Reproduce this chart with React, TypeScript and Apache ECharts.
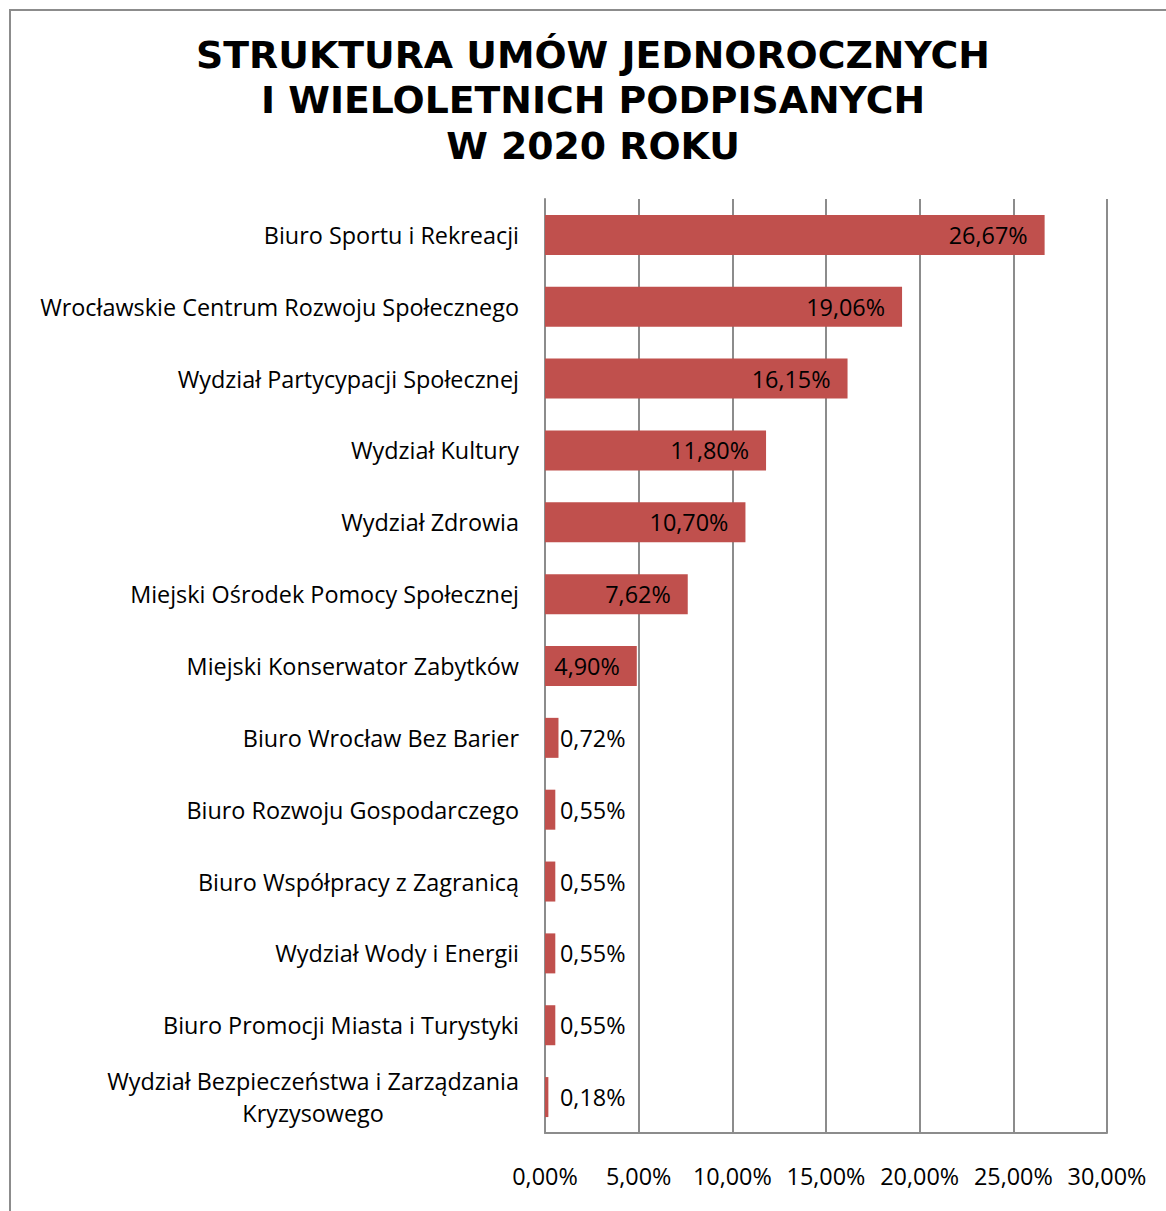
import React, { useEffect, useRef } from "react";
import * as echarts from "echarts";

const titleLines = ["STRUKTURA UMÓW JEDNOROCZNYCH", "I WIELOLETNICH PODPISANYCH", "W 2020 ROKU"];
const categories = [
  "Biuro Sportu i Rekreacji",
  "Wrocławskie Centrum Rozwoju Społecznego",
  "Wydział Partycypacji Społecznej",
  "Wydział Kultury",
  "Wydział Zdrowia",
  "Miejski Ośrodek Pomocy Społecznej",
  "Miejski Konserwator Zabytków",
  "Biuro Wrocław Bez Barier",
  "Biuro Rozwoju Gospodarczego",
  "Biuro Współpracy z Zagranicą",
  "Wydział Wody i Energii",
  "Biuro Promocji Miasta i Turystyki",
  "Wydział Bezpieczeństwa i Zarządzania\nKryzysowego",
];
const values = [26.67, 19.06, 16.15, 11.8, 10.7, 7.62, 4.9, 0.72, 0.55, 0.55, 0.55, 0.55, 0.18];
const xTicks = [0, 5, 10, 15, 20, 25, 30];

const FONT = "'Open Sans', 'Noto Sans', sans-serif";
const FS = 23.4;
const fmt = (v: number) => v.toFixed(2).replace(".", ",") + "%";

export default function App() {
  const ref = useRef<HTMLDivElement>(null);
  useEffect(() => {
    const chart = echarts.init(ref.current!, null, { renderer: "svg" });
    chart.setOption({
      animation: false,
      backgroundColor: "#fff",
      title: {
        text: titleLines.join("\n"),
        left: 588,
        textAlign: "center",
        top: 27,
        textStyle: {
          fontFamily: "'DejaVu Sans', Verdana, sans-serif",
          fontWeight: "bold",
          fontSize: 37.8,
          lineHeight: 45.5,
          color: "#000",
        },
      },
      graphic: [
        {
          type: "rect",
          shape: { x: 10, y: 10, width: 1200, height: 1250 },
          style: { fill: "none", stroke: "#8c8c8c", lineWidth: 2 },
          silent: true,
          z: 100,
        },
      ],
      grid: { left: 545, right: 59, top: 199, bottom: 78, containLabel: false },
      xAxis: {
        type: "value",
        min: xTicks[0],
        max: xTicks[xTicks.length - 1],
        interval: 5,
        axisLine: { show: true, lineStyle: { color: "#8c8c8c", width: 2 } },
        axisTick: { show: false },
        splitLine: { show: true, lineStyle: { color: "#8c8c8c", width: 2 } },
        axisLabel: {
          margin: 31,
          color: "#000",
          fontFamily: FONT,
          fontSize: FS,
          formatter: (v: number) => fmt(v),
        },
      },
      yAxis: {
        type: "category",
        data: categories,
        inverse: true,
        axisLine: { show: true, lineStyle: { color: "#8c8c8c", width: 2 } },
        axisTick: { show: false },
        axisLabel: {
          margin: 26,
          color: "#000",
          fontFamily: FONT,
          fontSize: FS,
          lineHeight: 32,
          formatter: (v: string) => {
            if (v.indexOf("\n") >= 0) {
              return v
                .split("\n")
                .map((s) => "{c|" + s + "}")
                .join("\n");
            }
            return v;
          },
          rich: {
            c: { align: "center", fontFamily: FONT, fontSize: FS, lineHeight: 32, color: "#000" },
          },
        },
      },
      series: [
        {
          type: "bar",
          barWidth: 40,
          itemStyle: { color: "#C0504D" },
          data: values.map((v) => ({
            value: v,
            label:
              v < 1
                ? { position: "insideLeft", distance: 15 }
                : { position: "insideRight", distance: 17 },
          })),
          label: {
            show: true,
            color: "#000",
            fontFamily: FONT,
            fontSize: FS,
            formatter: (p: any) => fmt(p.value),
          },
        },
      ],
    });
    return () => chart.dispose();
  }, []);
  return (
    <div
      ref={ref}
      style={{ position: "absolute", left: 0, top: 0, width: 1166, height: 1211 }}
    />
  );
}
